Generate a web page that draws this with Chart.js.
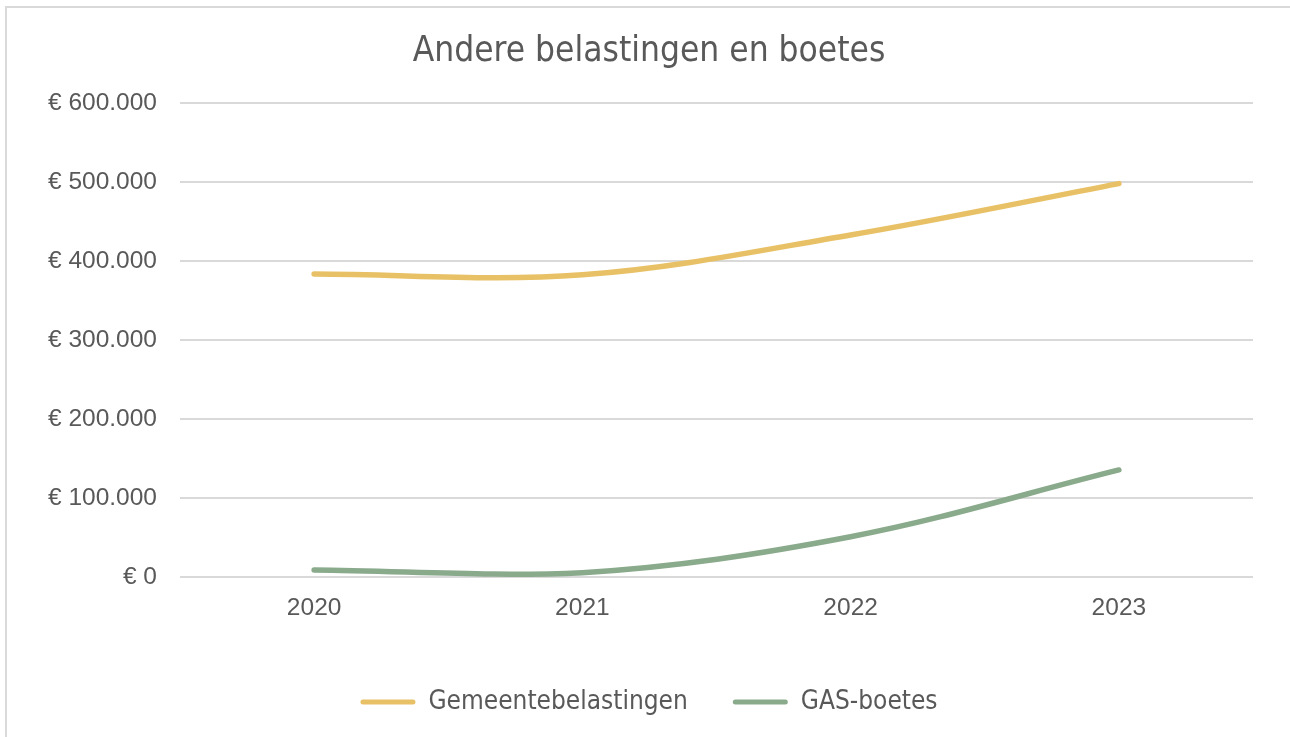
<!DOCTYPE html>
<html>
<head>
<meta charset="utf-8">
<script src="https://cdn.jsdelivr.net/npm/chart.js@4.4.1/dist/chart.umd.min.js"></script>
<style>
  html, body { margin: 0; padding: 0; background: #fff; }
  #wrap { position: relative; width: 1290px; height: 737px; overflow: hidden; }
  #frame {
    position: absolute; left: 5px; top: 6px; width: 1300px; height: 800px;
    border-top: 2px solid #d9d9d9; border-left: 2px solid #d9d9d9;
  }
  canvas { position: absolute; left: 0; top: 0; }
</style>
</head>
<body>
<div id="wrap">
  <div id="frame"></div>
  <canvas id="chart" width="1290" height="737"></canvas>
</div>
<script>
// Categories (years)
const years = ["2020", "2021", "2022", "2023"];

// Series values (euro)
const gemeentebelastingen = [383500, 382500, 433000, 498000];
const gasBoetes = [8900, 5500, 51000, 135500];

// Y axis range
const yMin = 0;
const yMax = 600000;
const yStep = 100000;

const textColor = "#595959";
const gridColor = "#d9d9d9";
const narrowFont = "'Liberation Sans Narrow', 'DejaVu Sans Condensed', sans-serif";
const tickFont = "'Liberation Sans', Arial, sans-serif";

// € 600.000 style labels
function fmtEuro(value) {
  if (value === 0) return "€ 0";
  const s = String(Math.round(value)).replace(/\B(?=(\d{3})+(?!\d))/g, ".");
  return "€ " + s;
}

const ctx = document.getElementById("chart");

new Chart(ctx, {
  type: "line",
  data: {
    labels: years,
    datasets: [
      {
        label: "Gemeentebelastingen",
        data: gemeentebelastingen,
        borderColor: "#e8c166",
        backgroundColor: "#e8c166",
        borderWidth: 5.5,
        borderCapStyle: "round",
        pointRadius: 0,
        tension: 0.35,
      },
      {
        label: "GAS-boetes",
        data: gasBoetes,
        borderColor: "#8aaa8c",
        backgroundColor: "#8aaa8c",
        borderWidth: 5.5,
        borderCapStyle: "round",
        pointRadius: 0,
        tension: 0.35,
      },
    ],
  },
  options: {
    responsive: false,
    animation: false,
    layout: {
      padding: { left: 45, right: 37, top: 0, bottom: 12 },
    },
    plugins: {
      title: {
        display: true,
        text: "Andere belastingen en boetes",
        color: textColor,
        font: { family: narrowFont, size: 35, weight: "normal" },
        padding: { top: 31, bottom: 30 },
      },
      legend: {
        position: "bottom",
        labels: {
          color: textColor,
          font: { family: narrowFont, size: 26 },
          boxWidth: 55,
          boxHeight: 5,
          padding: 45,
          useBorderRadius: true,
          borderRadius: 2.5,
          generateLabels: function (chart) {
            return chart.data.datasets.map((ds, i) => ({
              text: ds.label,
              fillStyle: ds.borderColor,
              strokeStyle: ds.borderColor,
              lineWidth: 0,
              fontColor: textColor,
              borderRadius: 2.5,
              datasetIndex: i,
            }));
          },
        },
      },
      tooltip: { enabled: false },
    },
    scales: {
      x: {
        offset: true,
        grid: { display: false, drawTicks: false },
        border: { display: false },
        ticks: {
          color: textColor,
          font: { family: tickFont, size: 24.5 },
          padding: 17,
        },
        afterFit: function (scale) {
          scale.height = 67;
        },
      },
      y: {
        min: yMin,
        max: yMax,
        grid: { color: gridColor, lineWidth: 2, drawTicks: false },
        border: { display: false },
        ticks: {
          stepSize: yStep,
          color: textColor,
          font: { family: tickFont, size: 24.5 },
          padding: 23,
          callback: function (value) {
            return fmtEuro(value);
          },
        },
        afterFit: function (scale) {
          scale.width = 135;
        },
      },
    },
  },
});
</script>
</body>
</html>
